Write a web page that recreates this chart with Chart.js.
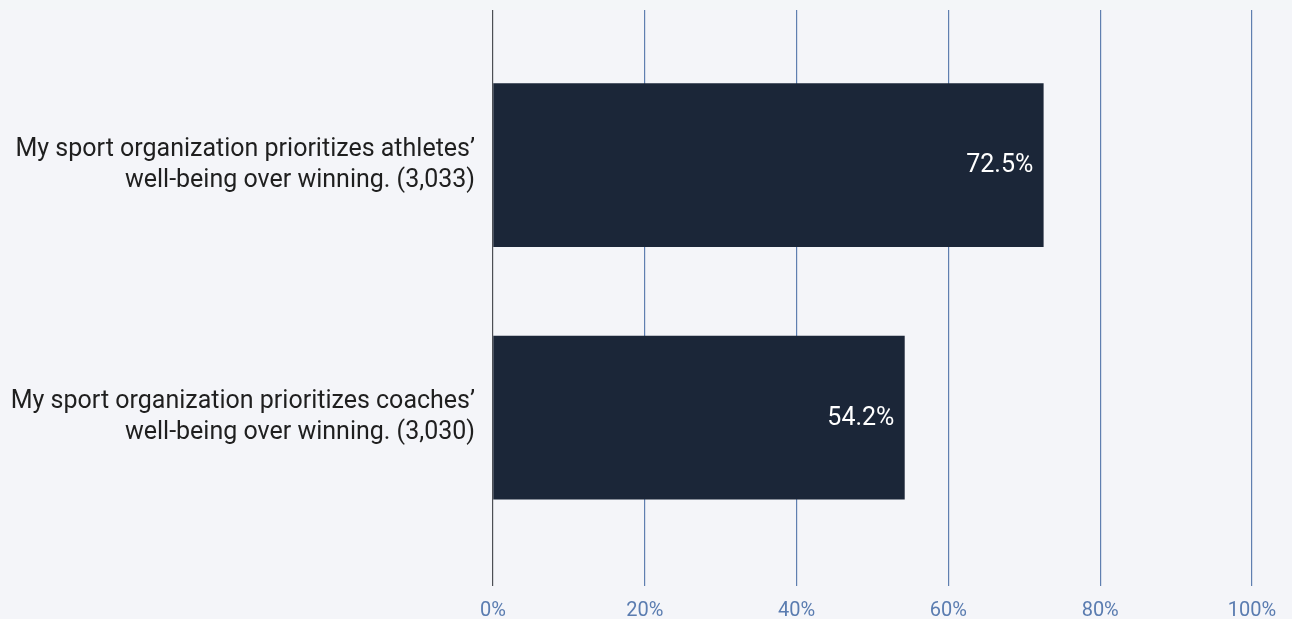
<!DOCTYPE html>
<html>
<head>
<meta charset="utf-8">
<script src="https://cdn.jsdelivr.net/npm/chart.js@4"></script>
<style>
  html, body { margin: 0; padding: 0; background: #f3f6f8; }
  #wrap { position: absolute; left: 0; top: 10px; width: 1292px; height: 609px; background: #f4f5f9; }
</style>
</head>
<body>
<div id="wrap"><canvas id="grafico"></canvas></div>
<script>
// dados
const categorias = [
  ['My sport organization prioritizes athletes\u2019', 'well-being over winning. (3,033)'],
  ['My sport organization prioritizes coaches\u2019', 'well-being over winning. (3,030)']
];
const valores = [72.5, 54.2];
const ticksX = [0, 20, 40, 60, 80, 100];

const grafico = document.getElementById('grafico');

// escreve o valor dentro da barra
const rotuloValor = {
  id: 'rotuloValor',
  afterDatasetsDraw(chart) {
    const ctx = chart.ctx;
    const meta = chart.getDatasetMeta(0);
    ctx.save();
    ctx.font = '25px Roboto';
    ctx.fillStyle = '#ffffff';
    ctx.textAlign = 'right';
    ctx.textBaseline = 'middle';
    meta.data.forEach(function (barra, i) {
      ctx.fillText(valores[i].toFixed(1) + '%', barra.x - 10, barra.y + 1);
    });
    ctx.restore();
  }
};

new Chart(grafico, {
  type: 'bar',
  data: {
    datasets: [
      {
        data: valores.map(function (v, i) { return { x: v, y: i }; }),
        backgroundColor: '#1b2638',
        barThickness: 163
      }
    ]
  },
  options: {
    indexAxis: 'y',
    responsive: true,
    maintainAspectRatio: false,
    animation: false,
    layout: { padding: { top: 0, right: 40, bottom: 0, left: 0 } },
    plugins: {
      legend: { display: false },
      tooltip: { enabled: false }
    },
    scales: {
      x: {
        type: 'linear',
        min: 0,
        max: 100,
        afterBuildTicks: function (eixo) {
          eixo.ticks = ticksX.map(function (v) { return { value: v }; });
        },
        afterFit: function (eixo) { eixo.height = 33; },
        grid: {
          color: function (c) { return c.tick && c.tick.value === 0 ? '#4d4f55' : '#5f7fb0'; },
          lineWidth: 1.2,
          drawTicks: false
        },
        border: { display: false },
        ticks: {
          color: '#5a7cb0',
          font: { family: 'Roboto', size: 20 },
          padding: 13,
          callback: function (v) { return v + '%'; }
        }
      },
      y: {
        type: 'linear',
        reverse: true,
        offset: false,
        min: -0.614,
        max: 1.667,
        afterBuildTicks: function (eixo) {
          eixo.ticks = categorias.map(function (c, i) { return { value: i }; });
        },
        afterFit: function (eixo) {
          eixo.width = 493;
          eixo.paddingTop = 0;
          eixo.paddingBottom = 0;
        },
        grid: { display: false, drawTicks: false },
        border: { display: false },
        ticks: {
          color: '#1f1f1f',
          font: { family: 'Roboto', size: 25, lineHeight: 1.24 },
          padding: 18,
          callback: function (v) { return categorias[v]; }
        }
      }
    }
  },
  plugins: [rotuloValor]
});
</script>
</body>
</html>
